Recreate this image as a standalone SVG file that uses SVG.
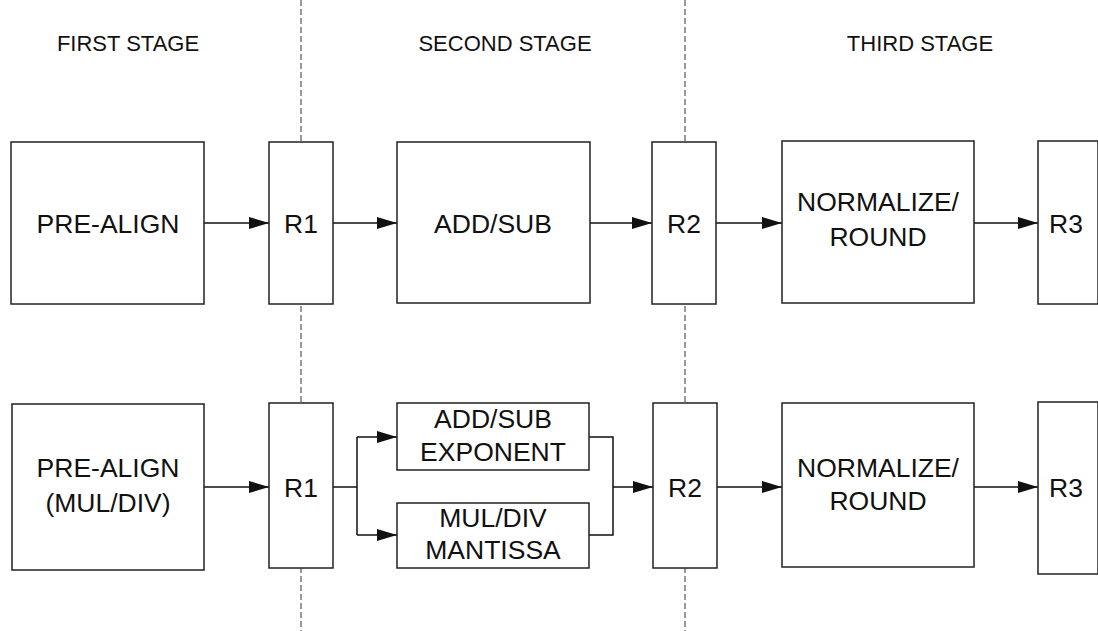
<svg xmlns="http://www.w3.org/2000/svg" width="1098" height="631" viewBox="0 0 1098 631">
<defs>
<marker id="ah" markerUnits="userSpaceOnUse" markerWidth="20" markerHeight="14" refX="20" refY="7" orient="auto">
<path d="M0,1 L20,7 L0,13 z" fill="#111"/>
</marker>
<style>
.box{fill:#fff;stroke:#222;stroke-width:1.5}
.lbl{font-family:"Liberation Sans",Arial,sans-serif;font-size:26.5px;fill:#111;text-anchor:middle}
.stg{font-family:"Liberation Sans",Arial,sans-serif;font-size:22px;fill:#111;text-anchor:middle}
.div{stroke:#333;stroke-width:1;stroke-dasharray:6 3;fill:none}
.con{stroke:#111;stroke-width:1.5;fill:none}
.arr{stroke:#111;stroke-width:1.5;fill:none;marker-end:url(#ah)}
</style>
</defs>
<rect width="1098" height="631" fill="#fff"/>
<g id="dividers">
<line class="div" x1="301" y1="0" x2="301" y2="631"/>
<line class="div" x1="685" y1="0" x2="685" y2="631"/>
</g>
<g id="stage-labels">
<text class="stg" x="128" y="51">FIRST STAGE</text>
<text class="stg" x="505" y="51">SECOND STAGE</text>
<text class="stg" x="920" y="51">THIRD STAGE</text>
</g>
<g id="connectors">
<line class="arr" x1="204" y1="223" x2="269" y2="223"/>
<line class="arr" x1="333" y1="223" x2="397" y2="223"/>
<line class="arr" x1="590" y1="223" x2="652" y2="223"/>
<line class="arr" x1="716" y1="223" x2="782" y2="223"/>
<line class="arr" x1="974" y1="223" x2="1038" y2="223"/>
<line class="arr" x1="204" y1="487" x2="269" y2="487"/>
<polyline class="con" points="333,487 357,487"/>
<polyline class="con" points="357,437 357,535"/>
<line class="arr" x1="357" y1="437" x2="397" y2="437"/>
<line class="arr" x1="357" y1="535" x2="397" y2="535"/>
<polyline class="con" points="589,437 613,437 613,535 589,535"/>
<line class="arr" x1="613" y1="487" x2="653" y2="487"/>
<line class="arr" x1="717" y1="487" x2="782" y2="487"/>
<line class="arr" x1="974" y1="487" x2="1038" y2="487"/>
</g>
<g id="prealign1"><rect class="box" x="11" y="142" width="193" height="162"/><text class="lbl" x="108" y="233">PRE-ALIGN</text></g>
<g id="r1-top"><rect class="box" x="269" y="142" width="64" height="162"/><text class="lbl" x="301" y="233">R1</text></g>
<g id="addsub"><rect class="box" x="397" y="142" width="193" height="161"/><text class="lbl" x="493" y="233">ADD/SUB</text></g>
<g id="r2-top"><rect class="box" x="652" y="142" width="64" height="162"/><text class="lbl" x="684" y="233">R2</text></g>
<g id="normalize1"><rect class="box" x="782" y="141" width="192" height="162"/><text class="lbl" x="878" y="211">NORMALIZE/</text><text class="lbl" x="878" y="246">ROUND</text></g>
<g id="r3-top"><rect class="box" x="1038" y="141" width="60" height="163"/><text class="lbl" x="1066" y="233">R3</text></g>
<g id="prealign2"><rect class="box" x="12" y="404" width="192" height="166"/><text class="lbl" x="108" y="477">PRE-ALIGN</text><text class="lbl" x="108" y="512">(MUL/DIV)</text></g>
<g id="r1-bottom"><rect class="box" x="269" y="403" width="64" height="165"/><text class="lbl" x="301" y="497">R1</text></g>
<g id="addsub-exp"><rect class="box" x="397" y="403" width="192" height="67"/><text class="lbl" x="493" y="428">ADD/SUB</text><text class="lbl" x="493" y="461">EXPONENT</text></g>
<g id="muldiv-mant"><rect class="box" x="397" y="503" width="192" height="65"/><text class="lbl" x="493" y="527">MUL/DIV</text><text class="lbl" x="493" y="559">MANTISSA</text></g>
<g id="r2-bottom"><rect class="box" x="653" y="403" width="64" height="165"/><text class="lbl" x="685" y="497">R2</text></g>
<g id="normalize2"><rect class="box" x="782" y="403" width="192" height="164"/><text class="lbl" x="878" y="477">NORMALIZE/</text><text class="lbl" x="878" y="510">ROUND</text></g>
<g id="r3-bottom"><rect class="box" x="1038" y="402" width="60" height="172"/><text class="lbl" x="1066" y="497">R3</text></g>
</svg>
